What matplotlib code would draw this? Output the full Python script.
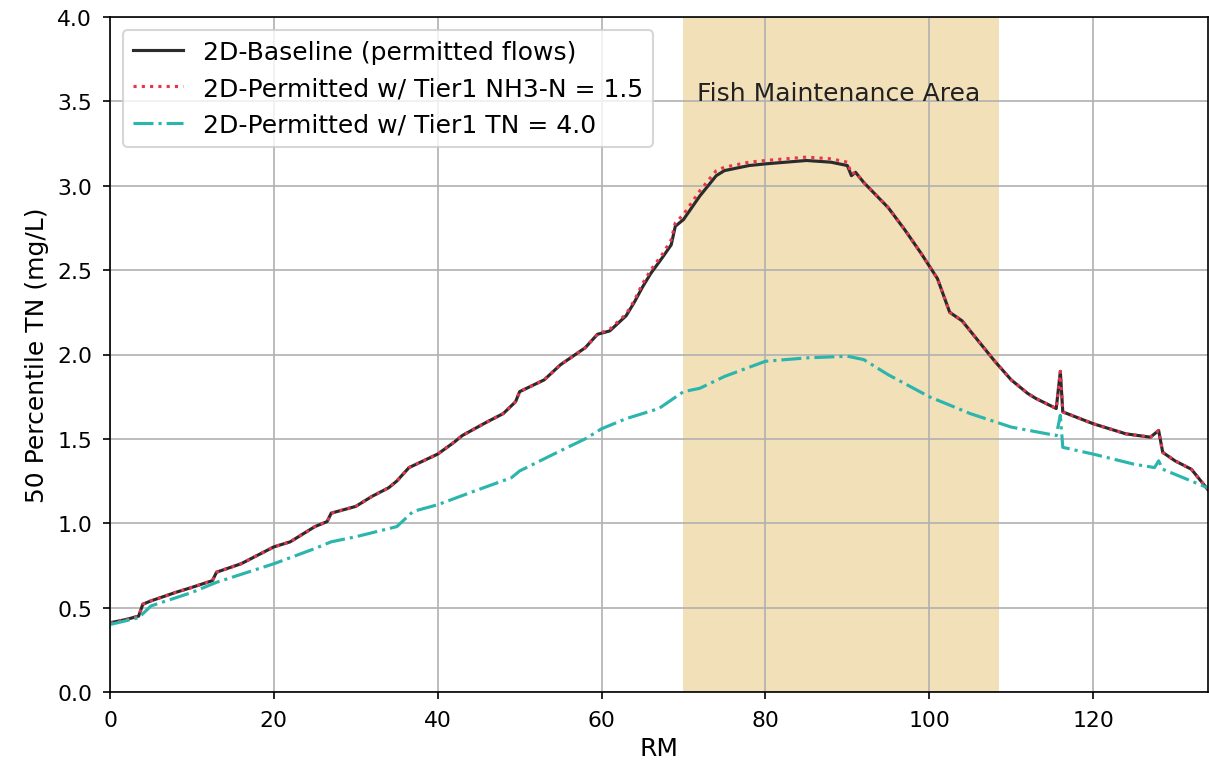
import matplotlib
matplotlib.use("Agg")
import matplotlib.pyplot as plt

# River mile positions and 50th percentile TN (mg/L)
rm_base = [0, 2, 3.5, 4, 5, 8, 10, 12.5, 13, 16, 20, 22, 25, 26.5, 27, 30, 32, 34, 35,
           36.5, 40, 42, 43, 46, 48, 49.5, 50, 53, 55, 58, 59.5, 61, 63, 64, 65, 66,
           67.5, 68.5, 69, 70, 71, 72, 73, 74, 75, 78, 80, 85, 88, 90, 90.5, 91, 92,
           93, 95, 97, 99, 101, 102.5, 104, 106, 108, 110, 112, 113, 115.5, 116,
           116.3, 120, 124, 127, 128, 128.5, 130, 132, 134]
tn_base = [0.41, 0.43, 0.45, 0.52, 0.54, 0.59, 0.62, 0.66, 0.71, 0.76, 0.86, 0.89,
           0.98, 1.01, 1.06, 1.10, 1.16, 1.21, 1.25, 1.33, 1.41, 1.48, 1.52, 1.60,
           1.65, 1.72, 1.78, 1.85, 1.94, 2.04, 2.12, 2.14, 2.23, 2.31, 2.40, 2.48,
           2.58, 2.65, 2.76, 2.80, 2.87, 2.94, 3.00, 3.06, 3.09, 3.12, 3.13, 3.15,
           3.14, 3.12, 3.06, 3.08, 3.02, 2.97, 2.87, 2.74, 2.60, 2.45, 2.25, 2.20,
           2.08, 1.96, 1.85, 1.77, 1.74, 1.68, 1.90, 1.66, 1.59, 1.53, 1.51, 1.55,
           1.42, 1.37, 1.32, 1.20]
tn_nh3 = [0.41, 0.43, 0.45, 0.52, 0.54, 0.59, 0.62, 0.66, 0.71, 0.76, 0.86, 0.89,
          0.98, 1.01, 1.06, 1.10, 1.16, 1.21, 1.25, 1.33, 1.41, 1.48, 1.52, 1.60,
          1.65, 1.72, 1.78, 1.85, 1.94, 2.04, 2.12, 2.15, 2.24, 2.32, 2.42, 2.50,
          2.60, 2.68, 2.78, 2.83, 2.90, 2.97, 3.03, 3.09, 3.11, 3.14, 3.15, 3.17,
          3.16, 3.14, 3.07, 3.08, 3.02, 2.97, 2.87, 2.74, 2.60, 2.45, 2.25, 2.20,
          2.08, 1.96, 1.85, 1.77, 1.74, 1.68, 1.90, 1.66, 1.59, 1.53, 1.51, 1.55,
          1.42, 1.37, 1.32, 1.20]

rm_tn4 = [0, 3.5, 5, 10, 13, 20, 25, 27, 30, 35, 37, 40, 45, 49, 50, 55, 58, 60, 63,
          67, 70, 72, 75, 80, 85, 90, 92, 95, 100, 105, 110, 115.5, 116, 116.3, 120,
          125, 127.5, 128, 128.5, 134]
tn_tn4 = [0.40, 0.44, 0.51, 0.59, 0.65, 0.76, 0.85, 0.89, 0.92, 0.98, 1.07, 1.11,
          1.20, 1.27, 1.31, 1.43, 1.50, 1.56, 1.62, 1.68, 1.78, 1.80, 1.87, 1.96,
          1.98, 1.99, 1.97, 1.88, 1.75, 1.65, 1.57, 1.52, 1.64, 1.45, 1.41, 1.35,
          1.33, 1.37, 1.32, 1.21]

fma_start, fma_end = 70, 108.5

fig = plt.figure(figsize=(8.06, 5.113), dpi=150)
ax = fig.add_axes([0.091, 0.0965, 0.908, 0.88])

ax.axvspan(fma_start, fma_end, color="#f1e0b8", zorder=0, lw=0)
ax.text(71.6, 3.55, "Fish Maintenance Area", fontsize=12, va="center", color="#222222")

ax.plot(rm_base, tn_base, color="#2b2b2b", lw=1.5, label="2D-Baseline (permitted flows)")
ax.plot(rm_base, tn_nh3, color="#e8354f", lw=1.5, ls=":",
        label="2D-Permitted w/ Tier1 NH3-N = 1.5")
ax.plot(rm_tn4, tn_tn4, color="#2bb5ad", lw=1.5, ls="-.",
        label="2D-Permitted w/ Tier1 TN = 4.0")

ax.set_xlim(0, 134)
ax.set_ylim(0, 4.0)
ax.set_xticks([0, 20, 40, 60, 80, 100, 120])
ax.set_yticks([0, 0.5, 1.0, 1.5, 2.0, 2.5, 3.0, 3.5, 4.0])
ax.set_yticklabels(["0.0", "0.5", "1.0", "1.5", "2.0", "2.5", "3.0", "3.5", "4.0"])
ax.tick_params(labelsize=10.5, pad=5)
ax.grid(True, color="#b0b0b0", lw=0.8)
ax.set_xlabel("RM", fontsize=12, labelpad=3)
ax.set_ylabel("50 Percentile TN (mg/L)", fontsize=12, labelpad=4)
ax.legend(loc="upper left", fontsize=12, framealpha=0.8)

fig.savefig("out.png", dpi=150)
